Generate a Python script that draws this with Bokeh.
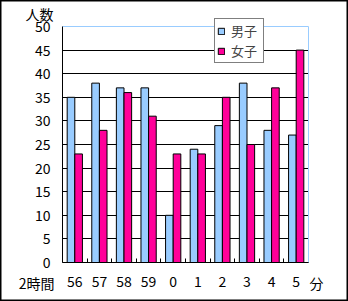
from bokeh.plotting import figure
from bokeh.models import (ColumnDataSource, Range1d, FixedTicker, LinearAxis,
                          Label, Legend, LegendItem, Grid)
from bokeh.transform import dodge
from bokeh.embed import file_html
from bokeh.resources import INLINE

categories = ["56", "57", "58", "59", "0", "1", "2", "3", "4", "5"]
boys = [35, 38, 37, 37, 10, 24, 29, 38, 28, 27]
girls = [23, 28, 36, 31, 23, 23, 35, 25, 37, 45]
y_ticks = [0, 5, 10, 15, 20, 25, 30, 35, 40, 45, 50]
series_names = ["男子", "女子"]
y_title = "人数"
x_prefix = "2時間"
x_suffix = "分"

BLUE = "#99CCFF"
PINK = "#FF0099"
FONT = "Noto Sans CJK JP"

W, H = 348, 301
# plot area box in canvas pixels (left, right, top, bottom)
PL, PR, PT, PB = 62, 308, 26, 262

n = len(categories)
ymin, ymax = y_ticks[0], y_ticks[-1]
xpx = (PR - PL) / n
ypx = (PB - PT) / (ymax - ymin)
x_range = Range1d(-PL / xpx, n + (W - PR) / xpx)
y_range = Range1d(ymin - (H - PB) / ypx, ymax + PT / ypx)

centers = [i + 0.5 for i in range(n)]
src = ColumnDataSource(dict(x=centers, boys=boys, girls=girls))

p = figure(width=W, height=H, output_backend="svg", toolbar_location=None,
           x_range=x_range, y_range=y_range, x_axis_type=None,
           min_border=0, min_border_left=0, min_border_right=0,
           min_border_top=0, min_border_bottom=0)
p.background_fill_color = "white"
p.border_fill_color = "white"
p.outline_line_color = "black"
p.outline_line_width = 2

bw = 0.31
r1 = p.vbar(x=dodge("x", -bw / 2, range=p.x_range), top="boys", width=bw,
            source=src, fill_color=BLUE, line_color="black", line_width=1)
r2 = p.vbar(x=dodge("x", bw / 2, range=p.x_range), top="girls", width=bw,
            source=src, fill_color=PINK, line_color="black", line_width=1)

# grids
p.xgrid.grid_line_color = None
p.ygrid.ticker = FixedTicker(ticks=y_ticks[:-1])
p.ygrid.grid_line_color = "black"
p.ygrid.cross_bounds = (0, n)
p.add_layout(Grid(dimension=1, ticker=FixedTicker(ticks=[ymax]),
                  grid_line_color=BLUE, cross_bounds=(0, n)))
p.add_layout(Grid(dimension=0, ticker=FixedTicker(ticks=[n]),
                  grid_line_color=BLUE, cross_bounds=(ymin, ymax)))

# y axis
ya = p.yaxis[0]
ya.fixed_location = 0
ya.bounds = (ymin, ymax)
ya.ticker = FixedTicker(ticks=y_ticks)
ya.major_tick_in = 0
ya.major_tick_out = 0
ya.minor_tick_line_color = None
ya.axis_line_color = "black"
ya.major_label_text_font = FONT
ya.major_label_text_font_size = "14px"
ya.major_label_text_color = "black"
ya.major_label_standoff = 12

# x axis with boundary ticks
xa1 = LinearAxis(ticker=FixedTicker(ticks=list(range(1, n))), fixed_location=0,
                 bounds=(0, n), major_tick_in=4, major_tick_out=0,
                 major_label_overrides={i: "" for i in range(1, n)},
                 major_label_standoff=0, major_label_text_font_size="1px",
                 minor_tick_line_color=None, axis_line_color="black",
                 major_tick_line_color="black")
p.add_layout(xa1, "below")
xa2 = LinearAxis(ticker=FixedTicker(ticks=centers), fixed_location=0,
                 major_tick_in=0, major_tick_out=0,
                 major_label_overrides={c: categories[i] for i, c in enumerate(centers)},
                 major_label_standoff=13, major_label_text_font=FONT,
                 major_label_text_font_size="14px", major_label_text_color="black",
                 minor_tick_line_color=None, axis_line_color=None)
p.add_layout(xa2, "below")

for txt, x, y, align in [(y_title, 53, H - 13, "right"),
                         (x_prefix, 54, H - 282, "right"),
                         (x_suffix, 309, H - 282, "left")]:
    p.add_layout(Label(x=x, y=y, x_units="screen", y_units="screen", text=txt,
                       text_font=FONT, text_font_size="14px", text_color="black",
                       text_align=align, text_baseline="middle"))

legend = Legend(items=[LegendItem(label=series_names[0], renderers=[r1]),
                       LegendItem(label=series_names[1], renderers=[r2])],
                location=(214, H - 63), orientation="vertical",
                glyph_width=8, glyph_height=8, label_height=16, label_width=30,
                label_standoff=6, spacing=1, padding=2, margin=0,
                label_text_font=FONT, label_text_font_size="13px",
                border_line_color="black", border_line_width=1,
                background_fill_color="white", background_fill_alpha=1)
p.add_layout(legend, "center")

open("out.html", "w").write(file_html(p, INLINE))
